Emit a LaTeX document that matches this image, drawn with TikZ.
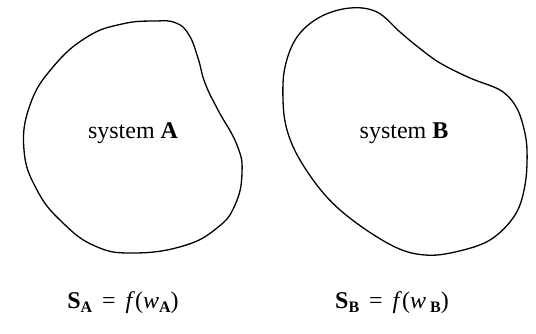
\documentclass[tikz,border=0pt]{standalone}
\usepackage{fontspec}
\setmainfont{Liberation Serif}
\newcommand{\subb}[1]{\raisebox{-0.35ex}{\fontsize{16}{16}\selectfont\bfseries #1}}
\tikzset{
  blob/.style={draw=black, line width=1.3pt, smooth cycle, tension=0.6},
  label/.style={font=\fontsize{24}{28}\selectfont, inner sep=0pt},
  eqn/.style={font=\fontsize{24}{28}\selectfont, inner sep=0pt}
}
\begin{document}
\begin{tikzpicture}[x=1pt,y=-1pt]
\useasboundingbox (0,0) rectangle (536,333);
\fill[white] (0,0) rectangle (536,333);
\draw[blob, tension=0.75] plot coordinates {(155,21) (176,23) (189,35) (198,58) (205,83) (218,110) (237,145) (242,173) (235,205) (217,228) (183,246) (133,253) (95,246) (62,222) (37,190) (24,150) (30,105) (53,67) (87,37) (122,24)};
\draw[blob] plot coordinates {(350,8) (377,12) (400,32) (418,47) (440,63) (470,78) (500,90) (515,105) (523,125) (527,150) (525,185) (515,215) (490,240) (455,252) (425,255) (395,247) (355,222) (325,195) (300,160) (287,130) (283,100) (285,67) (297,37) (320,17)};
\node[label] (la) at (133,133) {system \textbf{A}};
\node[label] (lb) at (404,133) {system \textbf{B}};
\node[eqn] (ea) at (123,303) {\textbf{S}\subb{A}\ \,=\ \,\textit{f}(\textit{w}\subb{A})};
\node[eqn] (eb) at (392,303) {\textbf{S}\subb{B}\ \,=\ \,\textit{f}(\textit{w}\,\subb{B})};
\end{tikzpicture}
\end{document}
